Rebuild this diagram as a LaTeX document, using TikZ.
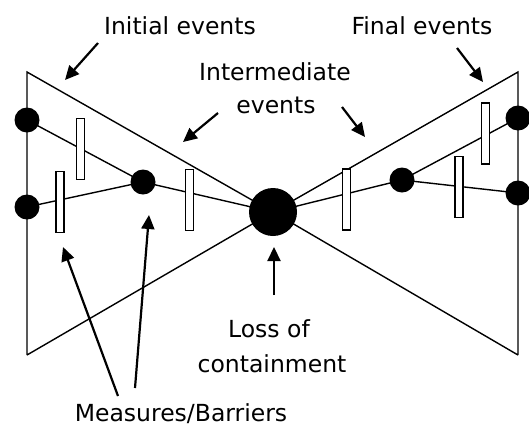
\documentclass[tikz,border=0pt]{standalone}
\usepackage{fontspec}
\setmainfont{DejaVu Sans}
\usetikzlibrary{arrows.meta}
\begin{document}
\begin{tikzpicture}[x=1pt,y=-1pt,
  edge/.style={line width=1.4pt,black},
  dot/.style={circle,fill=black,inner sep=0pt,minimum size=25pt},
  bigdot/.style={circle,fill=black,inner sep=0pt,minimum size=48pt},
  barrier/.style={rectangle,draw=black,fill=white,line width=1.1pt,inner sep=0pt,minimum width=8pt,minimum height=61pt},
  lbl/.style={font=\fontsize{23.5}{28}\selectfont,inner sep=0pt,anchor=base},
  pointer/.style={line width=2.2pt,-{Triangle[length=14pt,width=13pt]}}]
\useasboundingbox (0,0) rectangle (529,432);
% frame
\coordinate (TL) at (27,72);
\coordinate (BL) at (27,355);
\coordinate (TR) at (518,72);
\coordinate (BR) at (518,355);
\coordinate (C) at (273,212);
\draw[edge] (BL) -- (TL) -- (C) -- (BL);
\draw[edge] (BR) -- (TR) -- (C) -- (BR);
% event nodes
\node[dot] (i1) at (27,120) {};
\node[dot] (i2) at (27,207) {};
\node[dot] (m1) at (143,182) {};
\node[bigdot] (loc) at (C) {};
\node[dot] (m2) at (402,180) {};
\node[dot] (f1) at (518,118) {};
\node[dot] (f2) at (518,193) {};
% paths
\draw[edge] (i1.center) -- (m1.center);
\draw[edge] (i2.center) -- (m1.center);
\draw[edge] (m1.center) -- (loc.center);
\draw[edge] (loc.center) -- (m2.center);
\draw[edge] (m2.center) -- (f1.center);
\draw[edge] (m2.center) -- (f2.center);
% barriers
\node[barrier] (b1) at (80.5,149) {};
\node[barrier] (b2) at (60,202) {};
\node[barrier] (b3) at (189.5,200) {};
\node[barrier] (b4) at (346.5,199.5) {};
\node[barrier] (b5) at (485.5,133.5) {};
\node[barrier] (b6) at (459,187) {};
% labels
\node[lbl] (tinit) at (180,34) {Initial events};
\node[lbl] (tfinal) at (422,34) {Final events};
\node[lbl] (tint1) at (275,80) {Intermediate};
\node[lbl] (tint2) at (276,113) {events};
\node[lbl] (tloss1) at (269,337) {Loss of};
\node[lbl] (tloss2) at (272,372) {containment};
\node[lbl] (tmeas) at (181,421) {Measures/Barriers};
% arrows
\coordinate (a1s) at (98,43);   \coordinate (a1e) at (65,80);
\coordinate (a2s) at (218,113); \coordinate (a2e) at (183,142);
\coordinate (a3s) at (342,107); \coordinate (a3e) at (365,137);
\coordinate (a4s) at (457,48);  \coordinate (a4e) at (483,82);
\coordinate (a5s) at (274,295); \coordinate (a5e) at (274,247);
\coordinate (a6s) at (118,396); \coordinate (a6e) at (63,247);
\coordinate (a7s) at (135,388); \coordinate (a7e) at (149,215);
\draw[pointer] (a1s) -- (a1e);
\draw[pointer] (a2s) -- (a2e);
\draw[pointer] (a3s) -- (a3e);
\draw[pointer] (a4s) -- (a4e);
\draw[pointer] (a5s) -- (a5e);
\draw[pointer] (a6s) -- (a6e);
\draw[pointer] (a7s) -- (a7e);
\end{tikzpicture}
\end{document}
